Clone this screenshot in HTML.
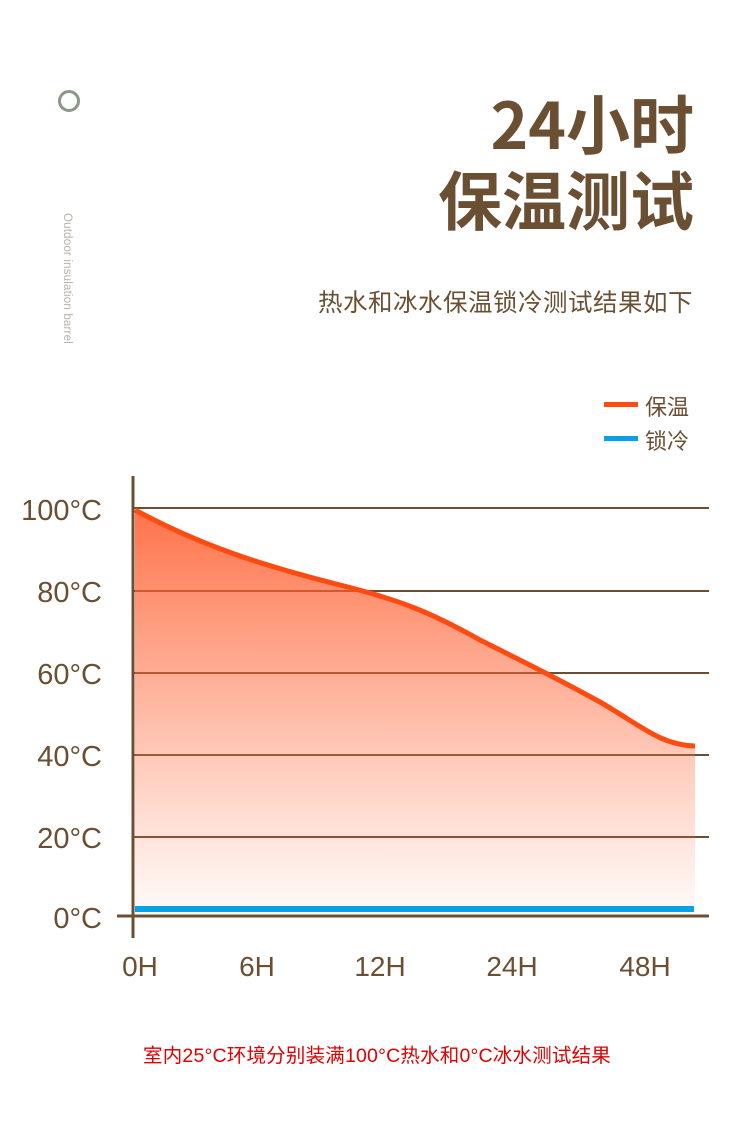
<!DOCTYPE html>
<html><head><meta charset="utf-8"><style>
body{margin:0;width:750px;height:1128px;background:#fff;overflow:hidden;position:relative;font-family:"Liberation Sans","Noto Sans CJK SC",sans-serif}
.t{position:absolute;color:#6b4f33}
</style></head><body>
<div style="position:absolute;left:58px;top:90px;width:16px;height:16px;border:3px solid #8a9a82;border-radius:50%"></div>
<div style="position:absolute;left:61px;top:213px;writing-mode:vertical-rl;font-size:11.5px;color:#b8b0a8;letter-spacing:0.2px">Outdoor insulation barrel</div>
<div class="t" style="right:56px;top:84px;font-size:64px;font-weight:bold;line-height:76px;text-align:right;font-family:'Noto Sans CJK SC',sans-serif">24小时<br>保温测试</div>
<div class="t" style="right:57px;top:284px;font-size:24.5px;letter-spacing:0.5px;font-family:'Noto Sans CJK SC',sans-serif">热水和冰水保温锁冷测试结果如下</div>
<svg width="750" height="1128" style="position:absolute;left:0;top:0">
<defs><linearGradient id="g" x1="0" y1="0" x2="0" y2="1"><stop offset="0" stop-color="#ff5a2a" stop-opacity="0.85"/><stop offset="1" stop-color="#ff6a3a" stop-opacity="0.02"/></linearGradient></defs>
<rect x="604" y="402" width="34" height="5" fill="#ff4a10"/>
<rect x="604" y="436" width="34" height="5" fill="#0aa0e8"/>
<g stroke="#6b4f33" stroke-width="2">
<line x1="133" y1="508" x2="709" y2="508"/><line x1="133" y1="591" x2="709" y2="591"/><line x1="133" y1="673" x2="709" y2="673"/><line x1="133" y1="755" x2="709" y2="755"/><line x1="133" y1="837" x2="709" y2="837"/>
<line x1="117" y1="916" x2="709" y2="916" stroke-width="3"/>
<line x1="133" y1="476" x2="133" y2="938" stroke-width="3"/>
</g>
<path d="M135 510 C200 545 260 565 340 585 C400 600 430 612 480 640 C530 665 560 680 600 702 C640 725 660 745 695 746 L695 916 L135 916 Z" fill="url(#g)"/>
<path d="M135 510 C200 545 260 565 340 585 C400 600 430 612 480 640 C530 665 560 680 600 702 C640 725 660 745 695 746" fill="none" stroke="#ff4a10" stroke-width="5"/>
<rect x="135" y="906" width="559" height="6" fill="#0aa0e8"/>
<g fill="#6b4f33" font-size="29" font-family="Liberation Sans, sans-serif" text-anchor="end">
<text x="102" y="520">100°C</text><text x="102" y="602">80°C</text><text x="102" y="684">60°C</text><text x="102" y="766">40°C</text><text x="102" y="848">20°C</text><text x="102" y="928">0°C</text>
</g>
<g fill="#6b4f33" font-size="28" font-family="Liberation Sans, sans-serif" text-anchor="middle">
<text x="140" y="976">0H</text><text x="257" y="976">6H</text><text x="380" y="976">12H</text><text x="512" y="976">24H</text><text x="645" y="976">48H</text>
</g>
</svg>
<div class="t" style="left:645px;top:390px;font-size:22px">保温</div>
<div class="t" style="left:645px;top:424px;font-size:22px">锁冷</div>
<div style="position:absolute;left:143px;top:1039px;font-size:19.5px;letter-spacing:0.2px;color:#e00000;white-space:nowrap">室内25°C环境分别装满100°C热水和0°C冰水测试结果</div>
</body></html>
